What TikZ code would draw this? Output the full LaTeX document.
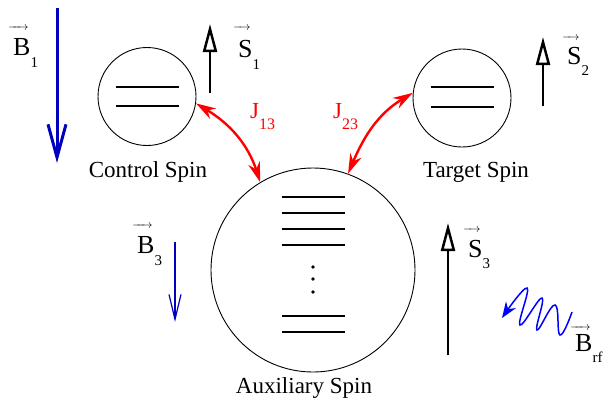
\documentclass[tikz,border=0pt]{standalone}
\usepackage{fontspec}
\setmainfont{Liberation Serif}
\usetikzlibrary{arrows.meta}
\definecolor{fieldblue}{RGB}{0,0,190}
\definecolor{rfblue}{RGB}{0,0,255}
\definecolor{jred}{RGB}{255,0,0}
% vector symbol with a subscript: [raise of the arrow] letter, subscript, drop of the subscript
\newcommand{\vecsym}[4][25pt]{%
  \setbox0\hbox{\fontsize{26}{26}\selectfont #2}%
  \rlap{\kern-5pt\raisebox{#1}{\hbox to \dimexpr\wd0+3pt\relax{\fontsize{12}{12}\selectfont\rightarrowfill}}}%
  \box0\raisebox{-#4}{\fontsize{15}{15}\selectfont #3}}
\newcommand{\jsym}[1]{J\raisebox{-11pt}{\fontsize{16}{16}\selectfont #1}}
\begin{document}
\begin{tikzpicture}[x=1pt,y=-1pt,
    spin/.style={draw, circle, inner sep=0pt, line width=0.9pt},
    energylevel/.style={line width=2.4pt},
    bfield/.style={draw=fieldblue, -{Straight Barb[length=33pt,width=18pt]}},
    spinvec/.style={line width=2.5pt, -{Triangle[open,length=28pt,width=14pt]}},
    coupling/.style={draw=jred, line width=2.4pt, {Stealth[length=20pt,width=12pt]}-{Stealth[length=20pt,width=12pt]}},
    spinname/.style={font=\fontsize{23}{23}\selectfont, anchor=base, inner sep=0pt},
    vlabel/.style={anchor=base west, inner sep=0pt},
    jlabel/.style={anchor=base west, inner sep=0pt, text=jred, font=\fontsize{23}{23}\selectfont}]
    \useasboundingbox (0,0) rectangle (603,400);
    % the three spins
    \node[spin, minimum size=98pt] (ctrl) at (147,96.5) {};
    \node[spin, minimum size=98pt] (targ) at (462,98) {};
    \node[spin, minimum size=204pt] (aux) at (313,270) {};
    \foreach \dy in {-9.5,9.5} {
        \draw[energylevel] (ctrl.center) ++(-31.5,\dy) -- ++(63,0);
    }
    \foreach \dy in {-11,9} {
        \draw[energylevel] (targ.center) ++(-31.5,\dy) -- ++(63,0);
    }
    \foreach \dy in {-73,-57,-41,-25,46,62} {
        \draw[energylevel] (aux.center) ++(-31.5,\dy) -- ++(63,0);
    }
    \foreach \dy in {-3,9,22} {
        \fill (aux.center) ++(0,\dy) circle (1.8);
    }
    \node[spinname] (ctrlname) at (148,177) {Control Spin};
    \node[spinname] (targname) at (476,177) {Target Spin};
    \node[spinname] (auxname) at (304,393) {Auxiliary Spin};
    % couplings
    \draw[coupling] (ctrl.-8) to[out=-31, in=108] (aux.121);
    \draw[coupling] (targ.174) to[out=-149, in=67] (aux.70);
    \node[jlabel] (j13) at (250,118) {\jsym{13}};
    \node[jlabel] (j23) at (333,118) {\jsym{23}};
    % spin vectors
    \coordinate (s1a) at (210,93);
    \coordinate (s1b) at (210,24);
    \coordinate (s2a) at (543,106);
    \coordinate (s2b) at (543,37);
    \coordinate (s3a) at (448,355);
    \coordinate (s3b) at (448,223);
    \draw[spinvec] (s1a) -- (s1b);
    \draw[spinvec] (s2a) -- (s2b);
    \draw[spinvec] (s3a) -- (s3b);
    \node[vlabel] (s1lbl) at (238,57) {\vecsym[27pt]{S}{1}{12pt}};
    \node[vlabel] (s2lbl) at (567,64) {\vecsym[24pt]{S}{2}{11pt}};
    \node[vlabel] (s3lbl) at (468,257) {\vecsym{S}{3}{11pt}};
    % static fields
    \coordinate (b1a) at (57,8);
    \coordinate (b1b) at (57,163);
    \coordinate (b3a) at (175,242);
    \coordinate (b3b) at (175,322);
    \draw[bfield, line width=3pt] (b1a) -- (b1b);
    \draw[bfield, line width=1.2pt, -{Straight Barb[length=25pt,width=12pt]}] (b3a) -- (b3b);
    \node[vlabel] (b1lbl) at (13,55) {\vecsym{B}{1}{12pt}};
    \node[vlabel] (b3lbl) at (137,253) {\vecsym{B}{3}{12pt}};
    % rf field
    \draw[rfblue, line width=1.5pt, -{Stealth[length=16pt,width=12pt]}]
        plot[smooth, tension=0.75] coordinates {(572,312) (560,335) (555,305) (537,330) (542,298) (520,325) (527,288) (502,318)};
    \node[vlabel] (brflbl) at (575,351) {\vecsym[21pt]{B}{rf}{11pt}};
\end{tikzpicture}
\end{document}
